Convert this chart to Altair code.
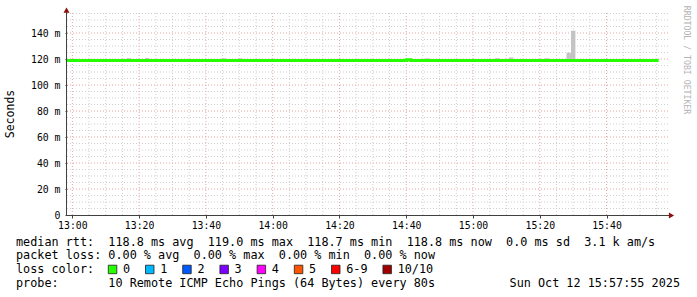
import altair as alt
import pandas as pd

# ---------------- data ----------------
DAY = "2025-10-12"
domain_times = ["12:58:24", "15:58:24"]

# median rtt (ms), step series
median_times = ["12:58:24", "14:40:05", "14:41:25", "15:55:36"]
median_vals = [118.8, 119.4, 118.8, 118.8]

# smoke (distribution of pings), gray blocks
smoke_start = ["13:16:15", "13:21:45", "13:44:40", "13:49:35", "14:45:40", "15:06:35",
               "15:10:45", "15:21:30", "15:28:00", "15:29:20"]
smoke_end = ["13:17:35", "13:23:05", "13:46:00", "13:50:55", "14:47:00", "15:07:55",
             "15:12:05", "15:22:50", "15:29:20", "15:30:40"]
smoke_lo = [118.4, 118.4, 118.4, 118.4, 118.4, 118.4, 118.4, 118.4, 118.4, 118.4]
smoke_hi = [120.7, 120.8, 120.6, 120.6, 120.5, 120.7, 121.2, 120.6, 124.8, 141.8]

x_major = ["13:00", "13:20", "13:40", "14:00", "14:20", "14:40", "15:00", "15:20", "15:40"]
x_minor = ["13:05", "13:10", "13:15", "13:25", "13:30", "13:35", "13:45", "13:50", "13:55",
           "14:05", "14:10", "14:15", "14:25", "14:30", "14:35", "14:45", "14:50", "14:55",
           "15:05", "15:10", "15:15", "15:25", "15:30", "15:35", "15:45", "15:50", "15:55"]
y_major = [20, 40, 60, 80, 100, 120, 140]
y_minor = [5, 10, 15, 25, 30, 35, 45, 50, 55, 65, 70, 75, 85, 90, 95, 105, 110, 115,
           125, 130, 135, 145, 150, 155]
y_ticks = [0, 20, 40, 60, 80, 100, 120, 140]

stats_rtt = {"avg": "118.8", "max": "119.0", "min": "118.7", "now": "118.8", "sd": "0.0", "ams": "3.1 k"}
stats_loss = {"avg": "0.00", "max": "0.00", "min": "0.00", "now": "0.00"}
loss_labels = ["0", "1", "2", "3", "4", "5", "6-9", "10/10"]
loss_colors = ["#26ff00", "#00b8ff", "#0059ff", "#7e00ff", "#ff00ff", "#ff5500", "#ff0000", "#a00000"]
probe_text = "10 Remote ICMP Echo Pings (64 Bytes) every 80s"
stamp_text = "Sun Oct 12 15:57:55 2025"
watermark = "RRDTOOL / TOBI OETIKER"


def ms(hms):
    if hms.count(":") == 1:
        hms = hms + ":00"
    return int(pd.Timestamp(f"{DAY}T{hms}", tz="UTC").value // 10**6)


NB = "\u00a0"
def nb(s):
    return s.replace(" ", NB)

# ---------------- layout ----------------
W, H = 601, 202
L, T = 67, 13
MONO = "DejaVu Sans Mono"

xs = alt.Scale(type="utc", domain=[ms(t) for t in domain_times])
ys = alt.Scale(domain=[0, 155.4], nice=False, zero=False)

x_axis = alt.Axis(values=[ms(t) for t in x_major], labelExpr="utcFormat(datum.value, '%H:%M')",
                  grid=False, domain=False, tickSize=3, tickColor="#404040", labelPadding=2,
                  labelFont=MONO, labelFontSize=9.8, labelColor="#000", title=None,
                  labelBaseline="top", labelFlush=False, labelOverlap=False)
y_axis = alt.Axis(values=y_ticks,
                  labelExpr=f"datum.value == 0 ? '0{NB}{NB}' : datum.value + '{NB}m'",
                  grid=False, domain=False, tickSize=2, tickColor="#404040", labelPadding=5,
                  labelFont=MONO, labelFontSize=9.8, labelColor="#000", title=None,
                  labelBaseline="middle", labelFlush=False, labelOverlap=False)


def X(f):
    return alt.X(f, type="temporal", scale=xs, axis=x_axis)


def Y(f):
    return alt.Y(f, type="quantitative", scale=ys, axis=y_axis)


one = pd.DataFrame({"a": [0]})
layers = []

minor_col = "#cfcfcf"
major_col = "#e9a4a4"

layers.append(alt.Chart(pd.DataFrame({"t": [ms(t) for t in x_minor]}))
              .mark_rule(color=minor_col, strokeWidth=1, strokeDash=[1, 2])
              .encode(x=X("t")))
layers.append(alt.Chart(pd.DataFrame({"v": y_minor}))
              .mark_rule(color=minor_col, strokeWidth=1, strokeDash=[1, 2])
              .encode(y=Y("v")))
layers.append(alt.Chart(pd.DataFrame({"t": [ms(t) for t in x_major]}))
              .mark_rule(color=major_col, strokeWidth=1, strokeDash=[1, 2])
              .encode(x=X("t")))
layers.append(alt.Chart(pd.DataFrame({"v": y_major}))
              .mark_rule(color=major_col, strokeWidth=1, strokeDash=[1, 2])
              .encode(y=Y("v")))

smoke_df = pd.DataFrame({"t0": [ms(t) for t in smoke_start], "t1": [ms(t) for t in smoke_end],
                         "lo": smoke_lo, "hi": smoke_hi})
layers.append(alt.Chart(smoke_df).mark_rect(color="#c4c4c4")
              .encode(x=X("t0"), x2="t1", y=Y("lo"), y2="hi"))

med_df = pd.DataFrame({"t": [ms(t) for t in median_times], "v": median_vals})
layers.append(alt.Chart(med_df).mark_line(color="#26ff00", strokeWidth=3, interpolate="step-after",
                                          strokeCap="butt")
              .encode(x=X("t"), y=Y("v")))

# axis lines and arrows
layers.append(alt.Chart(one).mark_rule(color="#404040", strokeWidth=1)
              .encode(x=alt.value(-0.5), y=alt.value(-4), y2=alt.value(H + 0.5)))
layers.append(alt.Chart(one).mark_rule(color="#404040", strokeWidth=1)
              .encode(x=alt.value(-0.5), x2=alt.value(W + 2), y=alt.value(H + 0.5)))
layers.append(alt.Chart(one).mark_point(shape="triangle-up", filled=True, size=36, color="#8b1010", opacity=1)
              .encode(x=alt.value(-0.5), y=alt.value(-2.8)))
layers.append(alt.Chart(one).mark_point(shape="triangle-right", filled=True, size=36, color="#8b1010", opacity=1)
              .encode(x=alt.value(W + 3.5), y=alt.value(H + 0.5)))

# titles
layers.append(alt.Chart(one).mark_text(font=MONO, fontSize=11.5, angle=270, align="center",
                                       baseline="middle", color="#000")
              .encode(x=alt.value(11 - L), y=alt.value(114 - T), text=alt.value("Seconds")))
layers.append(alt.Chart(one).mark_text(font=MONO, fontSize=8.2, angle=90, align="center",
                                       baseline="middle", color="#b4b4b4")
              .encode(x=alt.value(686 - L), y=alt.value(60 - T), text=alt.value(watermark)))

# legend text
r = stats_rtt
line1 = (f"median rtt:  {r['avg']} ms avg  {r['max']} ms max  {r['min']} ms min  "
         f"{r['now']} ms now  {r['sd']} ms sd  {r['ams']} am/s")
p = stats_loss
line2 = f"packet loss: {p['avg']} % avg  {p['max']} % max  {p['min']} % min  {p['now']} % now"
line3 = "loss color:"
line4 = f"probe:       {probe_text}"
rows_y = [241.5, 255.3, 269.2, 283.1]
FS = 11.8
CW = FS * 0.602


def txt(s, x, y, align="left"):
    return (alt.Chart(one).mark_text(font=MONO, fontSize=FS, align=align, baseline="middle", color="#000")
            .encode(x=alt.value(x - L), y=alt.value(y - T), text=alt.value(nb(s))))


for s, yy in zip([line1, line2, line3, line4], rows_y):
    layers.append(txt(s, 16, yy))
layers.append(txt(stamp_text, 680, rows_y[3], align="right"))

sx = 108.3
for lab, col in zip(loss_labels, loss_colors):
    layers.append(alt.Chart(one).mark_rect(color=col, stroke="#202020", strokeWidth=0.8)
                  .encode(x=alt.value(sx - L), x2=alt.value(sx + 8.5 - L),
                          y=alt.value(265.2 - T), y2=alt.value(273.7 - T)))
    lx = sx + 14.7
    layers.append(txt(lab, lx, rows_y[2]))
    sx = lx + len(lab) * CW + 15.4

chart = (alt.layer(*layers)
         .properties(width=W, height=H, autosize=alt.AutoSizeParams(type="none"),
                     padding={"left": L, "top": T, "right": 697 - L - W, "bottom": 297 - T - H},
                     background="white")
         .configure_view(stroke=None))

chart.save("out.html", embed_options={"renderer": "svg", "actions": False})
